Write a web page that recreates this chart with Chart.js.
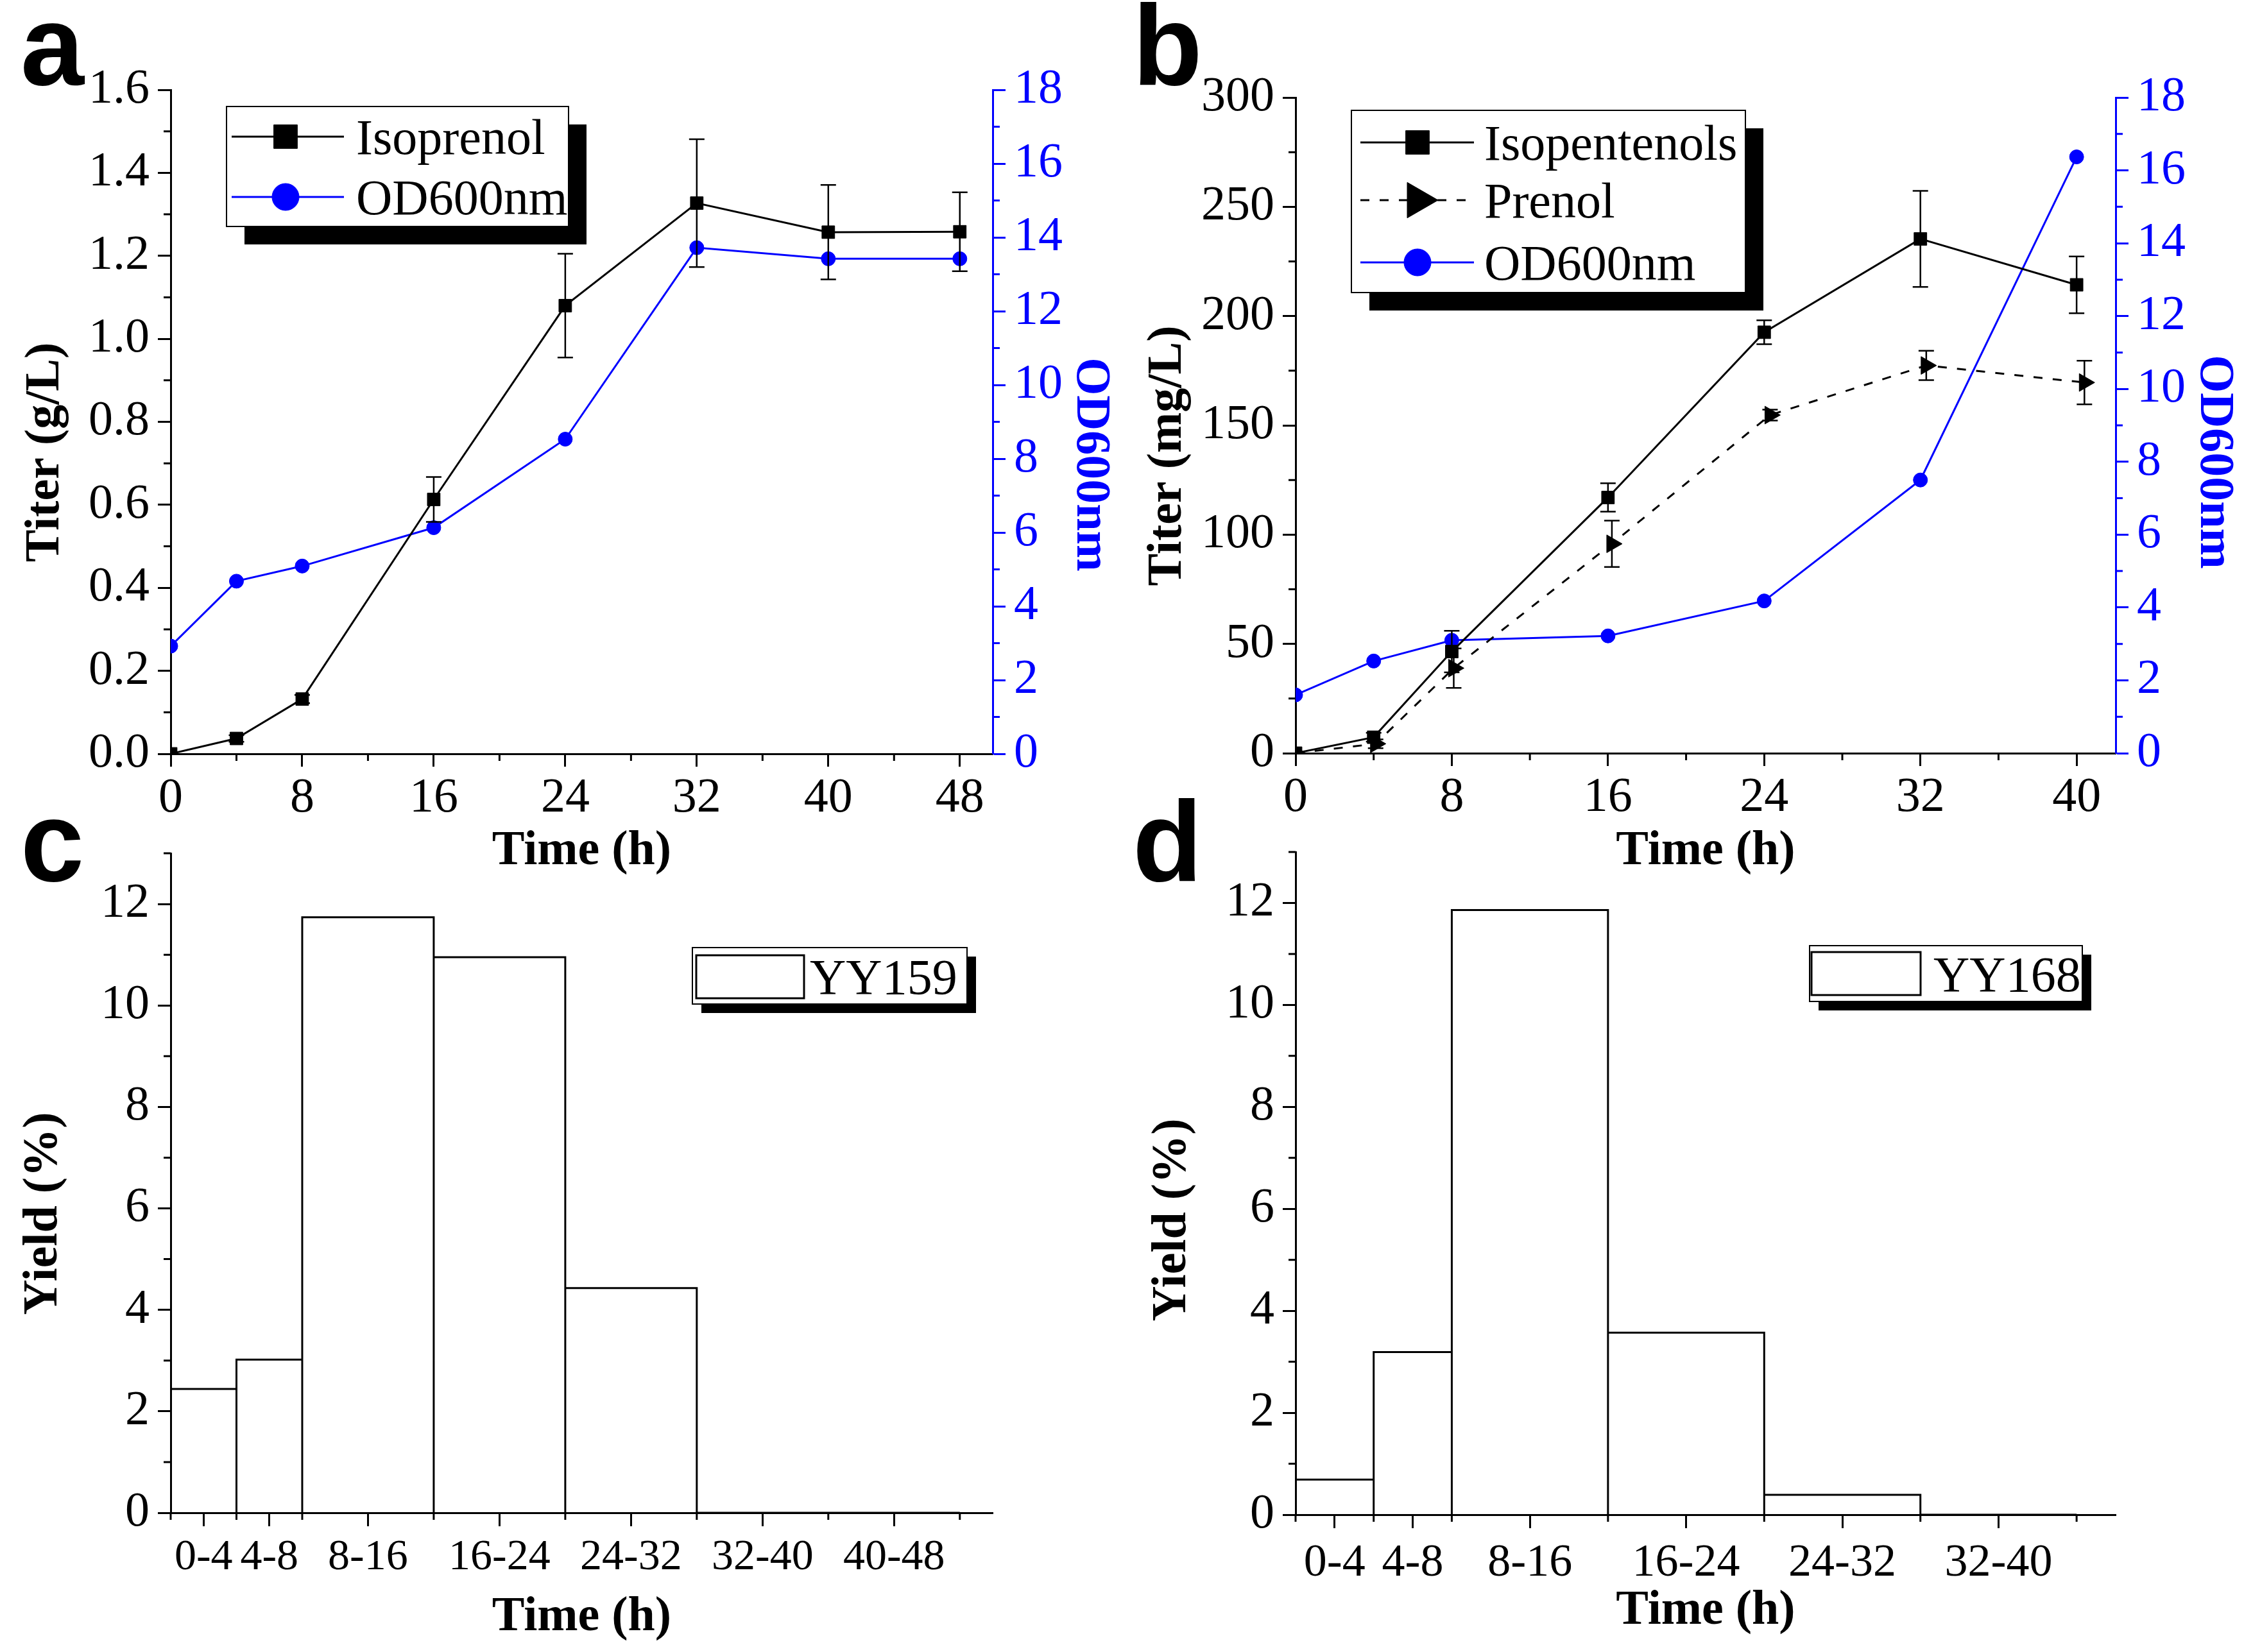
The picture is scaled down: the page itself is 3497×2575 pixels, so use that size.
<!DOCTYPE html>
<html>
<head>
<meta charset="utf-8">
<title>Isoprenol / isopentenol production</title>
<script src="https://cdn.jsdelivr.net/npm/chart.js@4.4.1/dist/chart.umd.min.js"></script>
<style>
  html, body { margin: 0; padding: 0; background: #fff; }
  #page { position: relative; width: 3497px; height: 2575px; overflow: hidden; background: #fff; }
  #page canvas { position: absolute; }
  .tag { position: absolute; font: bold 178px "Liberation Sans", Arial, sans-serif; line-height: 178px; color: #000; }
</style>
</head>
<body>
<div id="page">
  <canvas id="chartA" width="1748" height="1400" style="left:0;top:0"></canvas>
  <canvas id="chartB" width="1749" height="1400" style="left:1748px;top:0"></canvas>
  <canvas id="chartC" width="1748" height="1325" style="left:0;top:1250px"></canvas>
  <canvas id="chartD" width="1749" height="1325" style="left:1748px;top:1250px"></canvas>
  <div class="tag" style="left:32px;top:-18px">a</div>
  <div class="tag" style="left:1765px;top:-18px">b</div>
  <div class="tag" style="left:32px;top:1223px">c</div>
  <div class="tag" style="left:1765px;top:1223px">d</div>
</div>
<script>
// ---- panel a : strain YY159 ----
const aTime = [0, 4, 8, 16, 24, 32, 40, 48];
const aIsoprenol = [0, 0.037, 0.132, 0.613, 1.080, 1.327, 1.257, 1.258];
const aIsoprenolErr = [0, 0.008, 0.010, 0.054, 0.125, 0.154, 0.114, 0.095];
const aOD = [2.92, 4.68, 5.09, 6.13, 8.53, 13.72, 13.42, 13.42];
const aTimeTicks = [0, 8, 16, 24, 32, 40, 48];
const aTimeMinor = [4, 12, 20, 28, 36, 44];
const aTiterTicks = [0, 0.2, 0.4, 0.6, 0.8, 1.0, 1.2, 1.4, 1.6];
const aTiterMinor = [0.1, 0.3, 0.5, 0.7, 0.9, 1.1, 1.3, 1.5];

// ---- panel b : strain YY168 ----
const bTime = [0, 4, 8, 16, 24, 32, 40];
const bIsopentenols = [0, 7.3, 46.5, 117, 192.6, 235.3, 214.3];
const bIsopentenolsErr = [0, 2, 9.5, 6.5, 5.5, 22, 13];
const bPrenolTime = [0, 4.1, 8.1, 16.2, 24.3, 32.3, 40.4];
const bPrenol = [0, 4.3, 38.9, 95.8, 154.7, 177.4, 169.6];
const bPrenolErr = [0, 2, 9, 10.6, 2.5, 6.7, 10];
const bOD = [1.60, 2.53, 3.10, 3.22, 4.18, 7.50, 16.37];
const bTimeTicks = [0, 8, 16, 24, 32, 40];
const bTimeMinor = [4, 12, 20, 28, 36];
const bTiterTicks = [0, 50, 100, 150, 200, 250, 300];
const bTiterMinor = [25, 75, 125, 175, 225, 275];

const odTicks = [0, 2, 4, 6, 8, 10, 12, 14, 16, 18];
const odMinor = [1, 3, 5, 7, 9, 11, 13, 15, 17];

// ---- panels c, d : yield per interval ----
const cEdges = [0, 4, 8, 16, 24, 32, 40, 48];
const cCenters = [2, 6, 12, 20, 28, 36, 44];
const cLabels = ['0-4', '4-8', '8-16', '16-24', '24-32', '32-40', '40-48'];
const cYield = [2.44, 3.02, 11.74, 10.95, 4.43, 0, 0];

const dEdges = [0, 4, 8, 16, 24, 32, 40];
const dCenters = [2, 6, 12, 20, 28, 36];
const dLabels = ['0-4', '4-8', '8-16', '16-24', '24-32', '32-40'];
const dYield = [0.69, 3.19, 11.86, 3.57, 0.39, 0];

const yieldTicks = [0, 2, 4, 6, 8, 10, 12];
const yieldMinor = [1, 3, 5, 7, 9, 11, 13];

const SERIF = '"Liberation Serif", "Times New Roman", serif';
const BLUE = '#0000ff';
const TICK_FONT = {family: SERIF, size: 76};
const TITLE_FONT = {family: SERIF, size: 76, weight: 'bold'};

function points(xs, ys) {
  return xs.map((x, i) => ({x: x, y: ys[i]}));
}

// outline of touching bars, one rectangle per interval
function histPoints(edges, vals) {
  const pts = [];
  vals.forEach((v, i) => {
    pts.push({x: edges[i], y: 0}, {x: edges[i], y: v}, {x: edges[i + 1], y: v}, {x: edges[i + 1], y: 0});
  });
  return pts;
}

function makeAxis(o) {
  const color = o.color || '#000';
  return {
    type: 'linear',
    position: o.position,
    min: o.min,
    max: o.max,
    afterBuildTicks: s => { s.ticks = o.ticks.map(v => ({value: v})); },
    afterFit: s => {
      if (o.position === 'bottom') s.height = o.size;
      else s.width = o.size;
    },
    border: {display: true, color: color, width: 3},
    grid: {display: true, drawOnChartArea: false, drawTicks: true, tickLength: o.tickLength || 20, tickWidth: 3, tickColor: color},
    ticks: {
      color: color,
      font: o.tickFont || TICK_FONT,
      padding: o.tickPad,
      autoSkip: false,
      maxRotation: 0,
      minRotation: 0,
      callback: (v, i) => o.format(v, i)
    },
    title: {display: true, text: o.title, color: color, font: TITLE_FONT, padding: o.titlePad}
  };
}

const minorTicks = {
  id: 'minorTicks',
  afterDraw(chart, args, opts) {
    const ctx = chart.ctx;
    (opts.sets || []).forEach(set => {
      const s = chart.scales[set.scale];
      ctx.save();
      ctx.strokeStyle = set.color || '#000';
      ctx.lineWidth = 3;
      ctx.beginPath();
      set.values.forEach(v => {
        const p = s.getPixelForValue(v);
        if (s.position === 'left') {
          ctx.moveTo(s.right, p); ctx.lineTo(s.right - set.length, p);
        } else if (s.position === 'right') {
          ctx.moveTo(s.left, p); ctx.lineTo(s.left + set.length, p);
        } else {
          ctx.moveTo(p, s.top); ctx.lineTo(p, s.top + set.length);
        }
      });
      ctx.stroke();
      ctx.restore();
    });
  }
};

const errorBars = {
  id: 'errorBars',
  afterDatasetsDraw(chart) {
    const ctx = chart.ctx;
    chart.data.datasets.forEach((ds, i) => {
      if (!ds.errors) return;
      const meta = chart.getDatasetMeta(i);
      const ys = chart.scales[meta.yAxisID];
      ctx.save();
      ctx.strokeStyle = ds.borderColor;
      ctx.lineWidth = 2.5;
      meta.data.forEach((pt, j) => {
        const e = ds.errors[j];
        if (!e) return;
        const v = ds.data[j].y;
        const top = ys.getPixelForValue(v + e);
        const bot = ys.getPixelForValue(v - e);
        ctx.beginPath();
        ctx.moveTo(pt.x, top); ctx.lineTo(pt.x, bot);
        ctx.moveTo(pt.x - 12, top); ctx.lineTo(pt.x + 12, top);
        ctx.moveTo(pt.x - 12, bot); ctx.lineTo(pt.x + 12, bot);
        ctx.stroke();
      });
      ctx.restore();
    });
  }
};

// framed legend with a solid drop shadow, as in the original figure
const boxLegend = {
  id: 'boxLegend',
  afterDraw(chart, args, o) {
    if (!o.items) return;
    const ctx = chart.ctx;
    ctx.save();
    ctx.fillStyle = '#000';
    ctx.fillRect(o.x + o.shadow, o.y + o.shadow, o.w, o.h);
    ctx.fillStyle = '#fff';
    ctx.fillRect(o.x, o.y, o.w, o.h);
    ctx.strokeStyle = '#000';
    ctx.lineWidth = 2;
    ctx.strokeRect(o.x, o.y, o.w, o.h);
    o.items.forEach(it => {
      const ds = chart.data.datasets[it.dataset];
      if (it.box) {
        ctx.strokeStyle = '#000';
        ctx.lineWidth = 3;
        ctx.strokeRect(it.box[0], it.box[1], it.box[2], it.box[3]);
      } else {
        ctx.strokeStyle = ds.borderColor;
        ctx.lineWidth = 3;
        ctx.setLineDash(ds.borderDash || []);
        ctx.beginPath();
        ctx.moveTo(o.lineX[0], it.y);
        ctx.lineTo(o.lineX[1], it.y);
        ctx.stroke();
        ctx.setLineDash([]);
        ctx.fillStyle = ds.pointBackgroundColor;
        ctx.lineWidth = 1;
        Chart.helpers.drawPoint(ctx, {pointStyle: ds.pointStyle, radius: it.r, rotation: ds.pointRotation || 0, borderWidth: 1}, o.markX, it.y);
      }
      ctx.fillStyle = '#000';
      ctx.font = '78px ' + SERIF;
      ctx.textBaseline = 'middle';
      ctx.textAlign = 'left';
      ctx.fillText(ds.label, o.textX, it.y + 7);
    });
    ctx.restore();
  }
};

function baseOptions(pad, scales, plugins) {
  return {
    responsive: false,
    animation: false,
    devicePixelRatio: 1,
    layout: {padding: pad},
    scales: scales,
    plugins: Object.assign({legend: {display: false}, tooltip: {enabled: false}}, plugins)
  };
}

function seriesStyle(color, style, radius) {
  return {
    borderColor: color,
    backgroundColor: color,
    borderWidth: 3,
    pointStyle: style,
    pointRadius: radius,
    pointBackgroundColor: color,
    pointBorderColor: color,
    pointBorderWidth: 1,
    tension: 0
  };
}

const fix1 = v => v.toFixed(1);
const plain = v => String(v);

// ---- chart a ----
new Chart(document.getElementById('chartA'), {
  type: 'line',
  data: {
    datasets: [
      Object.assign({label: 'Isoprenol', data: points(aTime, aIsoprenol), errors: aIsoprenolErr, yAxisID: 'y'}, seriesStyle('#000', 'rect', 14)),
      Object.assign({label: 'OD600nm', data: points(aTime, aOD), yAxisID: 'y2'}, seriesStyle(BLUE, 'circle', 11))
    ]
  },
  options: baseOptions({top: 140, left: 0, right: 0, bottom: 0}, {
    x: makeAxis({position: 'bottom', min: 0, max: 50, ticks: aTimeTicks, format: plain, size: 225, tickPad: 4, title: 'Time (h)', titlePad: 27}),
    y: makeAxis({position: 'left', min: 0, max: 1.6, ticks: aTiterTicks, format: fix1, size: 266, tickPad: 13, title: 'Titer (g/L)     ', titlePad: 26}),
    y2: makeAxis({position: 'right', min: 0, max: 18, ticks: odTicks, format: plain, size: 201, tickPad: 13, color: BLUE, title: '       OD600nm', titlePad: 4})
  }, {
    minorTicks: {sets: [
      {scale: 'x', values: aTimeMinor, length: 11},
      {scale: 'y', values: aTiterMinor, length: 11},
      {scale: 'y2', values: odMinor, length: 11, color: BLUE}
    ]},
    boxLegend: {x: 353, y: 166, w: 533, h: 187, shadow: 28, lineX: [361, 536], markX: 445, textX: 555,
      items: [{dataset: 0, y: 213, r: 26}, {dataset: 1, y: 307, r: 21}]}
  }),
  plugins: [errorBars, minorTicks, boxLegend]
});

// ---- chart b ----
new Chart(document.getElementById('chartB'), {
  type: 'line',
  data: {
    datasets: [
      Object.assign({label: 'Isopentenols', data: points(bTime, bIsopentenols), errors: bIsopentenolsErr, yAxisID: 'y'}, seriesStyle('#000', 'rect', 14)),
      Object.assign({label: 'Prenol', data: points(bPrenolTime, bPrenol), errors: bPrenolErr, yAxisID: 'y'},
        seriesStyle('#000', 'triangle', 16), {borderDash: [14, 16], pointRotation: 90}),
      Object.assign({label: 'OD600nm', data: points(bTime, bOD), yAxisID: 'y2'}, seriesStyle(BLUE, 'circle', 11))
    ]
  },
  options: baseOptions({top: 152, left: 0, right: 0, bottom: 0}, {
    x: makeAxis({position: 'bottom', min: 0, max: 42, ticks: bTimeTicks, format: plain, size: 226, tickPad: 4, title: 'Time (h)', titlePad: 27}),
    y: makeAxis({position: 'left', min: 0, max: 300, ticks: bTiterTicks, format: plain, size: 271, tickPad: 13, title: 'Titer (mg/L)     ', titlePad: 27}),
    y2: makeAxis({position: 'right', min: 0, max: 18, ticks: odTicks, format: plain, size: 200, tickPad: 13, color: BLUE, title: '      OD600nm', titlePad: 2})
  }, {
    minorTicks: {sets: [
      {scale: 'x', values: bTimeMinor, length: 11},
      {scale: 'y', values: bTiterMinor, length: 11},
      {scale: 'y2', values: odMinor, length: 11, color: BLUE}
    ]},
    boxLegend: {x: 358, y: 172, w: 614, h: 284, shadow: 28, lineX: [372, 549], markX: 461, textX: 565,
      items: [{dataset: 0, y: 222, r: 26}, {dataset: 1, y: 312, r: 32}, {dataset: 2, y: 409, r: 21}]}
  }),
  plugins: [errorBars, minorTicks, boxLegend]
});

// ---- charts c and d ----
function yieldChart(id, label, edges, centers, labels, vals, xMax, yPadLeft, pad, legend) {
  return new Chart(document.getElementById(id), {
    type: 'line',
    data: {
      datasets: [{
        label: label,
        data: histPoints(edges, vals),
        borderColor: '#000',
        backgroundColor: '#fff',
        borderWidth: 3,
        borderJoinStyle: 'miter',
        pointRadius: 0,
        fill: false,
        tension: 0
      }]
    },
    options: baseOptions({top: pad.top, left: 0, right: pad.right, bottom: 0}, {
      x: makeAxis({position: 'bottom', min: 0, max: xMax, ticks: centers, format: (v, i) => labels[i], size: pad.xSize,
        tickLength: 21, tickPad: pad.xTickPad, tickFont: {family: SERIF, size: pad.xFont}, title: 'Time (h)', titlePad: pad.xTitle}),
      y: makeAxis({position: 'left', min: 0, max: 13, ticks: yieldTicks, format: plain, size: yPadLeft, tickPad: 13, title: pad.yTitle, titlePad: pad.yTitlePad})
    }, {
      minorTicks: {sets: [
        {scale: 'x', values: edges, length: 11},
        {scale: 'y', values: yieldMinor, length: 11}
      ]},
      boxLegend: legend
    }),
    plugins: [minorTicks, boxLegend]
  });
}

yieldChart('chartC', 'YY159', cEdges, cCenters, cLabels, cYield, 50, 266,
  {top: 80, right: 201, xSize: 217, xTickPad: 8, xFont: 68, xTitle: 8, yTitle: 'Yield (%)     ', yTitlePad: 23},
  {x: 1079, y: 227, w: 428, h: 88, shadow: 14, textX: 1262,
    items: [{dataset: 0, y: 272, box: [1085, 239, 168, 67]}]});

yieldChart('chartD', 'YY168', dEdges, dCenters, dLabels, dYield, 42, 271,
  {top: 78, right: 200, xSize: 214, xTickPad: 12, xFont: 72, xTitle: 18, yTitle: 'Yield (%)      ', yTitlePad: 34},
  {x: 1072, y: 224, w: 425, h: 87, shadow: 14, textX: 1265,
    items: [{dataset: 0, y: 268, box: [1075, 234, 170, 67]}]});
</script>
</body>
</html>
